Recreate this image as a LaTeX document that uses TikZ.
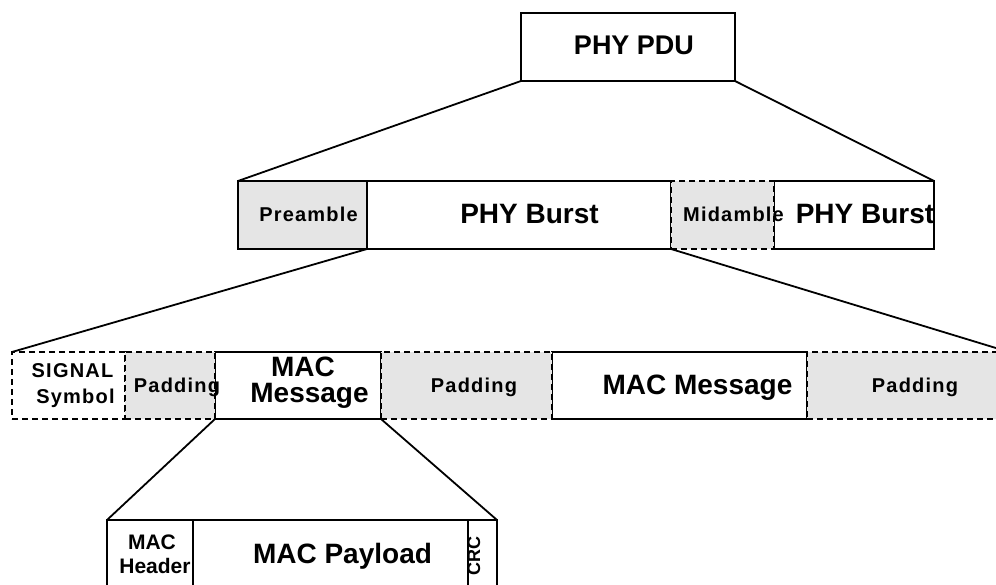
\documentclass[tikz,border=0pt]{standalone}
\usepackage{fontspec}
\setmainfont{Liberation Sans}
\newfontfamily\widefont[LetterSpace=6]{Liberation Sans}

\begin{document}
\begin{tikzpicture}[x=1pt,y=-1pt,
  blk/.style={draw=black, line width=1.8pt, inner sep=0pt, outer sep=0pt, anchor=north west},
  solidbox/.style={blk, fill=white},
  dashbox/.style={blk, fill=white, dash pattern=on 6pt off 4pt},
  greybox/.style={blk, fill=black!10},
  greydash/.style={greybox, dash pattern=on 6pt off 4pt},
  lbl/.style={inner sep=0pt, outer sep=0pt, anchor=base},
  big/.style={lbl, font=\fontsize{28}{30}\selectfont\bfseries},
  small/.style={lbl, font=\fontsize{20}{24}\selectfont\widefont\bfseries},
  link/.style={line width=1.8pt}]

\useasboundingbox (0,0) rectangle (996,585);

% top level
\node[solidbox, minimum width=214pt, minimum height=68pt] (pdu) at (521,13) {};

% burst level
\node[greybox, minimum width=129pt, minimum height=68pt] (pre) at (238,181) {};
\node[solidbox, minimum width=304pt, minimum height=68pt] (burstA) at (367,181) {};
\node[solidbox, minimum width=160pt, minimum height=68pt] (burstB) at (774,181) {};
\node[greydash, minimum width=103pt, minimum height=68pt] (mid) at (671,181) {};

% message level
\node[solidbox, minimum width=166pt, minimum height=67pt] (msgA) at (215,352) {};
\node[solidbox, minimum width=255pt, minimum height=67pt] (msgB) at (552,352) {};
\node[dashbox, minimum width=113pt, minimum height=67pt] (sig) at (12,352) {};
\node[greydash, minimum width=90pt, minimum height=67pt] (padA) at (125,352) {};
\node[greydash, minimum width=171pt, minimum height=67pt] (padB) at (381,352) {};
\node[greydash, minimum width=202pt, minimum height=67pt] (padC) at (807,352) {};

% MAC level
\node[solidbox, minimum width=86pt, minimum height=90pt] (hdr) at (107,520) {};
\node[solidbox, minimum width=275pt, minimum height=90pt] (pay) at (193,520) {};
\node[solidbox, minimum width=29pt, minimum height=90pt] (crc) at (468,520) {};

% expansion lines
\draw[link] (pdu.south west) -- (pre.north west);
\draw[link] (pdu.south east) -- (burstB.north east);
\draw[link] (pre.south east) -- (sig.north west);
\draw[link] (mid.south west) -- (padC.north east);
\draw[link] (msgA.south west) -- (hdr.north west);
\draw[link] (msgA.south east) -- (crc.north east);

% labels
\node[big, font=\fontsize{27}{30}\selectfont\bfseries] (tPdu) at (634,55) {PHY PDU};
\node[small] (tPre) at (308.5,222) {Preamble};
\node[big] (tBurstA) at (529.5,224) {PHY Burst};
\node[small] (tMid) at (733.5,222) {Midamble};
\node[big] (tBurstB) at (865,224) {PHY Burst};

\node[small] (tSig1) at (72.5,377) {SIGNAL};
\node[small] (tSig2) at (75.5,403) {Symbol};
\node[small] (tPadA) at (177,392) {Padding};
\node[big] (tMsgA1) at (303,376) {MAC};
\node[big] (tMsgA2) at (309.5,402) {Message};
\node[small] (tPadB) at (474,392) {Padding};
\node[big] (tMsgB) at (697.5,394) {MAC Message};
\node[small] (tPadC) at (915,392) {Padding};

\node[lbl, font=\fontsize{21}{24}\selectfont\bfseries] (tHdr1) at (152,549) {MAC};
\node[lbl, font=\fontsize{21}{24}\selectfont\bfseries] (tHdr2) at (155,573) {Header};
\node[big] (tPay) at (342.5,563) {MAC Payload};
\node[lbl, rotate=90, font=\fontsize{18}{20}\selectfont\bfseries] (tCrc) at (480,556) {CRC};
\end{tikzpicture}
\end{document}
